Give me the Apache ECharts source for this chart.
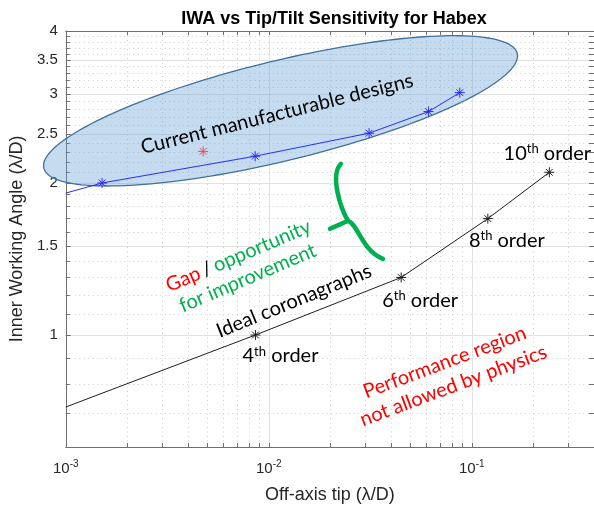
<!DOCTYPE html>
<html><head><meta charset="utf-8">
<script src="https://cdn.jsdelivr.net/npm/echarts@6/dist/echarts.min.js"></script>
<style>html,body{margin:0;padding:0;background:#fff}#c{width:594px;height:509px}</style>
</head><body><div id="c"></div>
<script>
// ---- data ----
const currentTip = [0.001, 0.00151, 0.00857, 0.0312, 0.0612, 0.0873];
const currentIWA = [1.91, 2.00, 2.26, 2.51, 2.77, 3.02];
const currentMarked = [false, true, true, true, true, true];
const habexTip = [0.00475];
const habexIWA = [2.31];
const idealTip = [0.001, 0.0086, 0.0449, 0.120, 0.241];
const idealIWA = [0.72, 1.00, 1.30, 1.70, 2.10];
const idealOrder = ['', '4', '6', '8', '10'];
const xMajorTicks = [0.001, 0.01, 0.1];
const xMinorTicks = [0.002, 0.003, 0.004, 0.005, 0.006, 0.007, 0.008, 0.009,
                     0.02, 0.03, 0.04, 0.05, 0.06, 0.07, 0.08, 0.09, 0.2, 0.3];
const yMajorTicks = [1, 1.5, 2, 2.5, 3, 3.5, 4];
const yMinorTicks = [0.7, 0.8, 0.9, 1.1, 1.2, 1.3, 1.4, 1.6, 1.7, 1.8, 1.9,
                     2.1, 2.2, 2.3, 2.4, 2.6, 2.7, 2.8, 2.9, 3.1, 3.2, 3.3, 3.4,
                     3.6, 3.7, 3.8, 3.9];
const xRange = [0.001, 0.4];
const yRange = [0.6, 4];
// ellipse: tips of major axis (data coords)
const ellipseTips = [[0.00078, 2.14], [0.1675, 3.61]];
// brace joint (data coords)
const braceJoint = [0.02455, 1.683];

// ---- styles ----
const AX = '#6f6f6f';
const TXT = '#262626';
const SANS = '"Liberation Sans", Arial, sans-serif';
const ANN = 'Lato, "Open Sans", sans-serif';
const STAR = 'path://M5,0L5,10M0,5L10,5M1.6,1.6L8.4,8.4M1.6,8.4L8.4,1.6';
const labelOffsets = [[0, 0], [25, 21], [19, 23], [19, 22], [-2, -19]];
const deg = Math.PI / 180;

const chart = echarts.init(document.getElementById('c'), null, {renderer: 'canvas'});

function xAxisBase(extra) {
  return Object.assign({
    type: 'log', logBase: 10, min: xRange[0], max: xRange[1], gridIndex: 0,
    axisLine: {show: false}, axisLabel: {show: false}, splitLine: {show: false},
    axisTick: {show: false}, minorTick: {show: false}, minorSplitLine: {show: false}
  }, extra);
}
function yAxisBase(extra) {
  return Object.assign({
    type: 'log', logBase: 10, min: yRange[0], max: yRange[1], gridIndex: 0,
    axisLine: {show: false}, axisLabel: {show: false}, splitLine: {show: false},
    axisTick: {show: false}, minorTick: {show: false}, minorSplitLine: {show: false}
  }, extra);
}
const allX = xMajorTicks.concat(xMinorTicks);
const allY = yMajorTicks.concat(yMinorTicks);
const DOT = {color: '#cdcdcd', width: 1, type: [1, 3.5]};

const option = {
  animation: false,
  backgroundColor: '#fff',
  title: {
    text: 'IWA vs Tip/Tilt Sensitivity for Habex',
    left: 329, top: 5, textAlign: 'center',
    textStyle: {fontFamily: SANS, fontSize: 18, fontWeight: 'bold', color: '#000'}
  },
  grid: {left: 63, right: -2, top: 31, bottom: 59, containLabel: false},
  xAxis: [
    xAxisBase({
      position: 'bottom',
      name: 'Off-axis tip (\u03BB/D)', nameLocation: 'middle', nameGap: 39,
      nameTextStyle: {fontFamily: SANS, fontSize: 18, color: TXT},
      axisLine: {show: true, onZero: false, lineStyle: {color: AX, width: 1}},
      axisTick: {show: true, inside: true, length: 4, customValues: xMajorTicks, lineStyle: {color: AX}},
      axisLabel: {show: true, customValues: xMajorTicks, margin: 12,
        formatter: v => '{b|10}{s|' + Math.round(Math.log10(v)) + '}',
        rich: {b: {fontFamily: SANS, fontSize: 15, color: TXT},
               s: {fontFamily: SANS, fontSize: 10, color: TXT, padding: [0, 0, 9, 0]}}},
      splitLine: {show: true, lineStyle: {color: '#e2e2e2', width: 1}}
    }),
    xAxisBase({
      position: 'bottom',
      axisTick: {show: true, inside: true, length: 4, customValues: xMinorTicks, lineStyle: {color: AX}},
      splitLine: {show: true, lineStyle: DOT}
    }),
    xAxisBase({
      position: 'top',
      axisLine: {show: true, onZero: false, lineStyle: {color: AX, width: 1}},
      axisTick: {show: true, inside: true, length: 4, customValues: allX, lineStyle: {color: AX}}
    })
  ],
  yAxis: [
    yAxisBase({
      position: 'left',
      name: 'Inner Working Angle (\u03BB/D)', nameLocation: 'middle', nameGap: 37,
      nameTextStyle: {fontFamily: SANS, fontSize: 18, color: TXT},
      axisLine: {show: true, onZero: false, lineStyle: {color: AX, width: 1}},
      axisTick: {show: true, inside: true, length: 5, customValues: yMajorTicks, lineStyle: {color: AX}},
      axisLabel: {show: true, customValues: yMajorTicks, margin: 8,
        fontFamily: SANS, fontSize: 15, color: TXT, formatter: v => String(v)},
      splitLine: {show: true, lineStyle: {color: '#e2e2e2', width: 1}}
    }),
    yAxisBase({
      position: 'left',
      axisTick: {show: true, inside: true, length: 4, customValues: yMinorTicks, lineStyle: {color: AX}},
      splitLine: {show: true, lineStyle: DOT}
    }),
    yAxisBase({
      position: 'right',
      axisLine: {show: true, onZero: false, lineStyle: {color: AX, width: 1}},
      axisTick: {show: true, inside: true, length: 5, customValues: allY, lineStyle: {color: AX}}
    })
  ],
  series: [
    {
      type: 'custom', name: 'ellipse', xAxisIndex: 0, yAxisIndex: 0, z: 1, silent: true,
      data: [[ellipseTips[0][0], ellipseTips[0][1]]],
      renderItem: function (params, api) {
        const p1 = api.coord(ellipseTips[0]);
        const p2 = api.coord(ellipseTips[1]);
        const cx = (p1[0] + p2[0]) / 2, cy = (p1[1] + p2[1]) / 2;
        const a = Math.hypot(p2[0] - p1[0], p2[1] - p1[1]) / 2;
        const b = 50;
        const ang = Math.atan2(p2[1] - p1[1], p2[0] - p1[0]);
        const pts = [];
        for (let i = 0; i < 180; i++) {
          const t = i / 180 * 2 * Math.PI;
          const ex = a * Math.cos(t), ey = b * Math.sin(t);
          pts.push([cx + ex * Math.cos(ang) - ey * Math.sin(ang),
                    cy + ex * Math.sin(ang) + ey * Math.cos(ang)]);
        }
        return {type: 'polygon', shape: {points: pts},
          style: {fill: 'rgba(91,155,213,0.36)', stroke: '#41719c', lineWidth: 1.3}};
      }
    },
    {
      type: 'line', name: 'Current', xAxisIndex: 0, yAxisIndex: 0, z: 3,
      data: currentTip.map((x, i) => ({value: [x, currentIWA[i]], symbol: currentMarked[i] ? STAR : 'none'})),
      symbolSize: 10, showAllSymbol: true,
      lineStyle: {color: '#2b2bff', width: 1},
      itemStyle: {color: '#2b2bff', borderColor: '#2b2bff', borderWidth: 1}
    },
    {
      type: 'line', name: 'Habex', xAxisIndex: 0, yAxisIndex: 0, z: 3,
      data: habexTip.map((x, i) => [x, habexIWA[i]]),
      symbol: STAR, symbolSize: 10,
      lineStyle: {width: 0},
      itemStyle: {color: '#e0506a', borderColor: '#e0506a', borderWidth: 1}
    },
    {
      type: 'line', name: 'Ideal', xAxisIndex: 0, yAxisIndex: 0, z: 3,
      data: idealTip.map((x, i) => ({
        value: [x, idealIWA[i]],
        symbol: idealOrder[i] ? STAR : 'none',
        label: {show: !!idealOrder[i], position: 'inside', offset: labelOffsets[i],
          formatter: () => '{n|' + idealOrder[i] + '}{s|th}{n| order}'}
      })),
      symbolSize: 10, showAllSymbol: true,
      lineStyle: {color: '#1e1e1e', width: 1},
      itemStyle: {color: '#1e1e1e', borderColor: '#1e1e1e', borderWidth: 1},
      label: {rich: {
        n: {fontFamily: ANN, fontSize: 20, color: '#000'},
        s: {fontFamily: ANN, fontSize: 13, color: '#000', padding: [0, 0, 9, 0]}
      }}
    },
    {
      type: 'custom', name: 'brace', xAxisIndex: 0, yAxisIndex: 0, z: 4, silent: true,
      data: [[braceJoint[0], braceJoint[1]]],
      renderItem: function (params, api) {
        const j = api.coord(braceJoint);
        const st = {stroke: '#00b050', lineWidth: 4.5, fill: null, lineCap: 'round'};
        const bz = (p0, p1, p2, p3) => ({type: 'bezierCurve', shape: {
          x1: j[0] + p0[0], y1: j[1] + p0[1], x2: j[0] + p3[0], y2: j[1] + p3[1],
          cpx1: j[0] + p1[0], cpy1: j[1] + p1[1], cpx2: j[0] + p2[0], cpy2: j[1] + p2[1]}, style: st});
        return {type: 'group', children: [
          bz([-7, -57], [-18, -46], [-8, -14], [0, 0]),
          bz([0, 0], [-6, 3], [-12, 5], [-18, 8]),
          bz([0, 0], [10, 3], [14, 30], [35, 38])
        ]};
      }
    }
  ],
  graphic: [
    {type: 'text', x: 277, y: 114, rotation: 14 * deg, z: 10,
      style: {text: 'Current manufacturable designs', font: '20px ' + ANN, fill: '#000',
        align: 'center', verticalAlign: 'middle'}},
    {type: 'text', x: 243, y: 267, rotation: 23 * deg, z: 10,
      style: {text: '{r|Gap} {k|/} {g|opportunity}\n{g|for improvement}',
        align: 'center', verticalAlign: 'middle',
        rich: {r: {font: '20px ' + ANN, fill: '#ff0000', lineHeight: 24},
               k: {font: '20px ' + ANN, fill: '#000', lineHeight: 24},
               g: {font: '20px ' + ANN, fill: '#00b050', lineHeight: 24}}}},
    {type: 'text', x: 294, y: 301, rotation: 22 * deg, z: 10,
      style: {text: 'Ideal coronagraphs', font: '20px ' + ANN, fill: '#000',
        align: 'center', verticalAlign: 'middle'}},
    {type: 'text', x: 449, y: 374, rotation: 20.5 * deg, z: 10,
      style: {text: 'Performance region\nnot allowed by physics', font: '20px ' + ANN, fill: '#ff0000',
        align: 'center', verticalAlign: 'middle', lineHeight: 25}}
  ]
};
chart.setOption(option);
</script></body></html>
